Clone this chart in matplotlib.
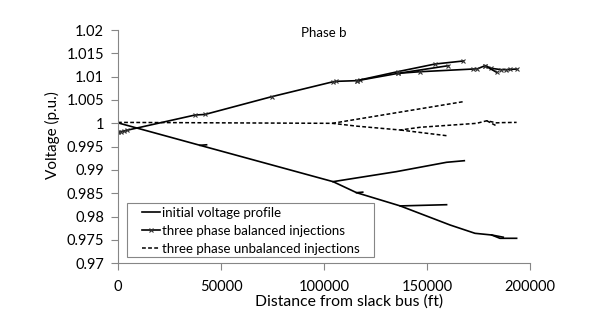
import matplotlib
matplotlib.use("Agg")
import matplotlib.pyplot as plt
from matplotlib.patches import Rectangle

plt.rcParams['font.family'] = ['Lato', 'DejaVu Sans']

# ---- data (distance in ft, voltage in p.u.) ----
# initial voltage profile, one list pair per feeder branch
init_main_x = [0, 39800, 104400, 115800, 137000, 161200, 173300, 181400, 185400, 193500]
init_main_y = [1.0001, 0.99529, 0.98750, 0.98514, 0.98230, 0.97821, 0.97643, 0.97607, 0.97536, 0.97536]
init_br1_x = [104400, 135200, 159500, 168100]
init_br1_y = [0.98750, 0.98965, 0.99165, 0.99199]
init_br2_x = [137000, 159500]
init_br2_y = [0.98230, 0.98256]
init_stub1_x = [39800, 43000]
init_stub1_y = [0.99529, 0.99540]
init_stub2_x = [115800, 118800]
init_stub2_y = [0.98514, 0.98525]
init_stub3_x = [181400, 187000]
init_stub3_y = [0.97607, 0.97560]

# three phase balanced injections
bal_main_x = [0, 1500, 3000, 4500, 37400, 42200, 74600, 104500, 106000, 115800, 117500,
              136100, 146600, 172500, 174500, 178200, 181000, 186000, 188500, 190300, 193500]
bal_main_y = [0.99807, 0.99822, 0.99838, 0.99853, 1.00178, 1.00190, 1.00571, 1.00892, 1.00900,
              1.00914, 1.00925, 1.01072, 1.01106, 1.01164, 1.01170, 1.01235, 1.01180, 1.01150,
              1.01150, 1.01155, 1.01164]
bal_br1_x = [115800, 136100, 153900, 167600]
bal_br1_y = [1.00914, 1.01110, 1.01271, 1.01336]
bal_br2_x = [136100, 160300]
bal_br2_y = [1.01072, 1.01235]
bal_br3_x = [178200, 183800]
bal_br3_y = [1.01235, 1.01093]

# three phase unbalanced injections
unb_main_x = [0, 104000, 115800, 137000, 146600, 174100, 179000, 183800, 186000, 193500]
unb_main_y = [1.0002, 1.0000, 0.99940, 0.99857, 0.99915, 1.0000, 1.00055, 1.00010, 1.00015, 1.00020]
unb_br1_x = [104000, 167600]
unb_br1_y = [1.0000, 1.00464]
unb_br2_x = [137000, 159500]
unb_br2_y = [0.99857, 0.99735]
unb_br3_x = [179000, 183800]
unb_br3_y = [1.00055, 0.99943]

x_ticks = [0, 50000, 100000, 150000, 200000]
y_ticks = [0.97, 0.975, 0.98, 0.985, 0.99, 0.995, 1, 1.005, 1.01, 1.015, 1.02]
y_tick_labels = ["0.97", "0.975", "0.98", "0.985", "0.99", "0.995", "1", "1.005", "1.01", "1.015", "1.02"]

fig = plt.figure(figsize=(5.98, 3.24), dpi=100)
ax = fig.add_axes([0.1973, 0.1873, 0.6890, 0.7201])

init_style = dict(color="black", linewidth=1.2)
bal_style = dict(color="black", linewidth=1.2, marker="x", markersize=3.5,
                 markeredgewidth=0.8, markeredgecolor="#303030")
unb_style = dict(color="black", linewidth=1.1, linestyle=(0, (2.5, 1.5)))

ax.plot(init_main_x, init_main_y, label="initial voltage profile", **init_style)
for bx, by in [(init_br1_x, init_br1_y), (init_br2_x, init_br2_y), (init_stub1_x, init_stub1_y),
               (init_stub2_x, init_stub2_y), (init_stub3_x, init_stub3_y)]:
    ax.plot(bx, by, **init_style)

ax.plot(bal_main_x, bal_main_y, label="three phase balanced injections", **bal_style)
for bx, by in [(bal_br1_x, bal_br1_y), (bal_br2_x, bal_br2_y), (bal_br3_x, bal_br3_y)]:
    ax.plot(bx, by, **bal_style)

ax.plot(unb_main_x, unb_main_y, label="three phase unbalanced injections", **unb_style)
for bx, by in [(unb_br1_x, unb_br1_y), (unb_br2_x, unb_br2_y), (unb_br3_x, unb_br3_y)]:
    ax.plot(bx, by, **unb_style)

ax.set_xlim(0, 200000)
ax.set_ylim(0.97, 1.02)
ax.set_xticks(x_ticks)
ax.set_xticklabels([str(t) for t in x_ticks])
ax.set_yticks(y_ticks)
ax.set_yticklabels(y_tick_labels)

for s in ["top", "right"]:
    ax.spines[s].set_visible(False)
for s in ["left", "bottom"]:
    ax.spines[s].set_color("#868686")
    ax.spines[s].set_linewidth(0.8)
ax.tick_params(axis="both", direction="out", length=5, width=0.8, color="#868686", labelsize=10.5)
ax.tick_params(axis="y", pad=5)
ax.tick_params(axis="x", pad=7)

ax.set_xlabel("Distance from slack bus (ft)", fontsize=11.3)
ax.xaxis.set_label_coords(0.5607, -0.135)
ax.set_ylabel("Voltage (p.u.)", fontsize=11)
ax.yaxis.set_label_coords(-0.141, 0.55)

ax.text(0.5, 1.015, "Phase b", transform=ax.transAxes, ha="center", va="top", fontsize=9.5)

# legend box drawn by hand so the padding matches
ax.add_patch(Rectangle((0.0218, 0.027), 0.5996, 0.2315, transform=ax.transAxes, fill=False,
                       edgecolor="#868686", linewidth=0.8, zorder=4))
ax.legend(loc="center left", bbox_to_anchor=(0.0575, 0.14), fontsize=9.5, frameon=False,
          handlelength=1.4, handletextpad=0.15, labelspacing=0.45, borderpad=0, borderaxespad=0)

fig.savefig("out.png", dpi=100)
